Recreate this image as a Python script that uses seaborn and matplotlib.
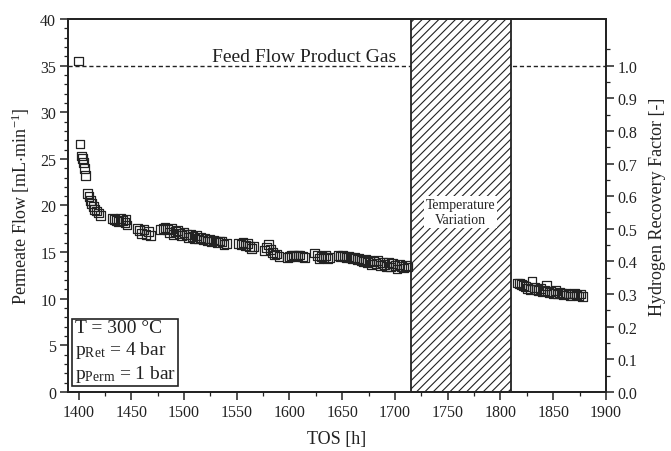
import matplotlib
matplotlib.use("Agg")
import matplotlib.pyplot as plt
from matplotlib.ticker import MultipleLocator, FixedLocator, FormatStrFormatter
import seaborn as sns
import pandas as pd

# Permeate flow during long-term operation (TOS in h, flow in mL/min)
tos_start = [1400, 1401.5, 1402.5, 1403.5, 1404.5, 1405.5, 1406.5, 1408.5, 1410, 1411,
             1412.5, 1414, 1415.5, 1417, 1419, 1421]
flow_start = [35.5, 26.6, 25.3, 25.0, 24.6, 24.0, 23.2, 21.3, 21.0, 20.5,
              20.2, 19.9, 19.6, 19.4, 19.2, 18.9]

tos_mid = [1432, 1434, 1436, 1438, 1440, 1442, 1444, 1445, 1446,
           1456, 1458, 1460, 1462, 1464, 1466, 1468,
           1478, 1480, 1482, 1484, 1486, 1488, 1490, 1492, 1494, 1496, 1498, 1500,
           1502, 1504, 1506, 1508, 1510, 1512, 1514, 1516, 1518, 1520, 1522, 1524,
           1526, 1528, 1530, 1532, 1534, 1536, 1538, 1540,
           1552, 1554, 1556, 1558, 1560, 1562, 1564, 1566,
           1576, 1578, 1580, 1582, 1584, 1586, 1588, 1590,
           1598, 1600, 1602, 1604, 1606, 1608, 1610, 1612, 1614,
           1624, 1626, 1628, 1630, 1632, 1634, 1636, 1638,
           1646, 1648, 1650, 1652, 1654, 1656, 1658, 1660, 1662, 1664, 1666, 1668,
           1670, 1672, 1674, 1676, 1678, 1680, 1682, 1684, 1686, 1688, 1690, 1692,
           1694, 1696, 1698, 1700, 1702, 1704, 1706, 1708, 1710, 1712]
flow_mid = [18.6, 18.5, 18.4, 18.3, 18.6, 18.4, 18.2, 18.5, 17.9,
            17.5, 17.3, 17.0, 17.4, 16.9, 17.2, 16.8,
            17.4, 17.5, 17.6, 17.4, 17.1, 17.5, 16.9, 17.2, 17.3, 17.0, 16.8, 17.1,
            16.9, 16.6, 16.9, 16.7, 16.5, 16.8, 16.4, 16.6, 16.3, 16.5, 16.2, 16.4,
            16.1, 16.3, 16.2, 16.0, 16.2, 16.1, 15.8, 15.9,
            15.9, 15.8, 16.0, 15.7, 15.9, 15.6, 15.4, 15.6,
            15.2, 15.5, 15.8, 15.3, 15.0, 14.7, 14.8, 14.5,
            14.4, 14.5, 14.6, 14.7, 14.5, 14.6, 14.7, 14.5, 14.4,
            14.9, 14.6, 14.3, 14.5, 14.4, 14.6, 14.3, 14.4,
            14.6, 14.5, 14.6, 14.5, 14.4, 14.5, 14.4, 14.3, 14.4, 14.2, 14.3, 14.1,
            14.0, 14.2, 13.9, 14.1, 13.7, 14.0, 13.8, 14.1, 13.6, 13.9, 13.7, 13.5,
            13.9, 13.4, 13.8, 13.6, 13.2, 13.7, 13.5, 13.3, 13.6, 13.4]

tos_end = [1816, 1818, 1820, 1822, 1824, 1826, 1828, 1830, 1832, 1834, 1836, 1838,
           1840, 1842, 1844, 1846, 1848, 1850, 1852, 1854, 1856, 1858, 1860, 1862,
           1864, 1866, 1868, 1870, 1872, 1874, 1876, 1878]
flow_end = [11.7, 11.6, 11.5, 11.4, 11.3, 11.1, 11.0, 11.9, 11.2, 11.0, 10.9, 11.1,
            10.8, 10.9, 11.4, 10.7, 10.8, 10.6, 10.9, 10.5, 10.7, 10.6, 10.4, 10.6,
            10.5, 10.3, 10.5, 10.6, 10.4, 10.3, 10.5, 10.2]

feed_flow = 35.0
temp_variation = (1715, 1810)

df = pd.DataFrame({
    "tos": tos_start + tos_mid + tos_end,
    "flow": flow_start + flow_mid + flow_end,
})

sns.set_theme(style="ticks")
plt.rcParams["font.family"] = ["Liberation Serif", "DejaVu Serif"]
plt.rcParams["mathtext.fontset"] = "custom"
plt.rcParams["mathtext.rm"] = "Liberation Serif"
plt.rcParams["mathtext.it"] = "Liberation Serif:italic"
plt.rcParams["mathtext.default"] = "rm"
plt.rcParams["hatch.linewidth"] = 0.8

ink = "#222222"
tick_fs = 11.5
label_fs = 13
fig = plt.figure(figsize=(6.71, 4.52), dpi=100)
ax = fig.add_axes([0.1013, 0.1305, 0.8017, 0.8253])

# Feed flow reference line
ax.axhline(feed_flow, color=ink, lw=1.0, ls=(0, (3, 2)), zorder=1)
ax.text(1614, feed_flow + 0.45, "Feed Flow Product Gas", ha="center", va="baseline",
        fontsize=14, color=ink)

# Hatched block for the temperature variation period
ax.axvspan(*temp_variation, facecolor="white", edgecolor=ink, hatch="////",
           lw=1.3, zorder=3)
ax.text(sum(temp_variation) / 2, 19.3, "Temperature\nVariation", ha="center",
        va="center", fontsize=10, color=ink, zorder=4, linespacing=1.25,
        bbox=dict(boxstyle="square,pad=0.12", fc="white", ec="none"))

sns.scatterplot(data=df, x="tos", y="flow", ax=ax, marker="s", s=40,
                facecolor="none", edgecolor=ink, linewidth=0.9, zorder=5)

ax.set_xlim(1390, 1900)
ax.set_ylim(0, 40)
ax.xaxis.set_major_locator(MultipleLocator(50))
ax.xaxis.set_minor_locator(MultipleLocator(25))
ax.yaxis.set_major_locator(MultipleLocator(5))
ax.yaxis.set_minor_locator(MultipleLocator(1))
ax.tick_params(which="major", direction="out", length=5.5, width=1.1, colors=ink,
               labelsize=tick_fs, pad=3)
ax.tick_params(which="minor", direction="out", length=3, width=0.9, colors=ink)
ax.set_xlabel("TOS [h]", fontsize=13, color=ink, labelpad=7)
ax.set_ylabel(r"Permeate Flow [mL$\cdot$min$^{-1}$]", fontsize=label_fs, color=ink,
              labelpad=6)
for side in ["left", "right", "top", "bottom"]:
    ax.spines[side].set_visible(True)
    ax.spines[side].set_color(ink)
    ax.spines[side].set_linewidth(1.3)

# Secondary axis: hydrogen recovery factor relative to feed flow
ax2 = ax.twinx()
ax2.set_ylim(0, 40 / feed_flow)
ax2.yaxis.set_major_locator(FixedLocator([i / 10 for i in range(11)]))
ax2.yaxis.set_minor_locator(FixedLocator([0.05 + i / 10 for i in range(11)]))
ax2.yaxis.set_major_formatter(FormatStrFormatter("%.1f"))
ax2.tick_params(which="major", direction="out", length=5.5, width=1.1, colors=ink,
                labelsize=tick_fs, pad=3)
ax2.tick_params(which="minor", direction="out", length=3, width=0.9, colors=ink)
ax2.set_ylabel("Hydrogen Recovery Factor [-]", fontsize=label_fs, color=ink,
               labelpad=8)
for side in ["left", "right", "top", "bottom"]:
    ax2.spines[side].set_color(ink)
    ax2.spines[side].set_linewidth(1.3)

# Operating conditions
ax.text(1396.5, 0.85, "T = 300 °C\n" r"p$_{\mathrm{Ret}}$ = 4 bar" "\n"
        r"p$_{\mathrm{Perm}}$ = 1 bar", ha="left", va="bottom", fontsize=14,
        color=ink, linespacing=1.2, zorder=6,
        bbox=dict(boxstyle="square,pad=0.12", fc="white", ec=ink, lw=1.2))

fig.savefig("out.png", dpi=100)
